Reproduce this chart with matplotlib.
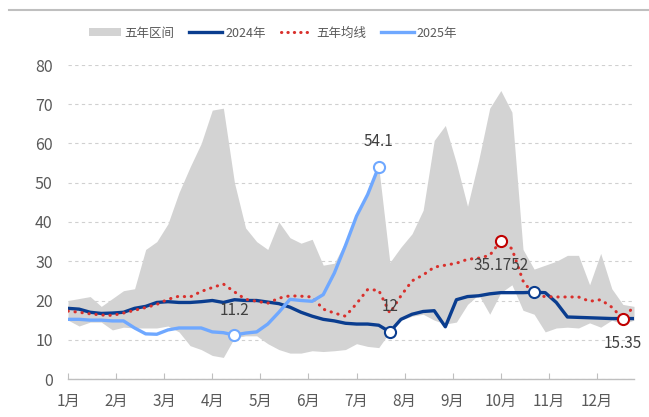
import matplotlib
matplotlib.use("Agg")
import matplotlib.pyplot as plt
from matplotlib.lines import Line2D
from matplotlib.patches import Patch
import numpy as np

plt.rcParams['font.family'] = ['Noto Sans CJK SC', 'DejaVu Sans']

months = ["1月", "2月", "3月", "4月", "5月", "6月", "7月", "8月", "9月", "10月", "11月", "12月"]

range_high = [20, 20.5, 21, 18.5, 20.5, 22.5, 23, 33, 35, 39.5, 47.5, 54, 60, 68.5, 69, 50,
              38.5, 35, 33, 40, 36, 34.6, 35.6, 29, 29.5, 35, 42, 48, 54, 29.7,
              33.6, 37, 43, 60.8, 64.6, 55, 44, 55.7, 69, 73.5, 68, 33, 28, 29,
              30, 31.5, 31.5, 24, 32, 23, 19, 18.5]
range_low = [15, 13.5, 14.5, 14.5, 12.5, 13.2, 13, 13, 13, 13.5, 12, 8.5, 7.5, 6, 5.5, 10.5,
             11, 11, 9, 7.5, 6.6, 6.6, 7.2, 7, 7.2, 7.5, 9, 8.3, 8, 12,
             15, 16, 16.5, 15, 14, 14.5, 19, 21.5, 16.5, 22, 24, 17.5, 16.5, 12,
             13, 13.2, 13, 14.3, 13.2, 15, 14, 15]
y2024 = [18, 17.8, 17, 16.7, 16.8, 17, 18, 18.5, 19.5, 19.7, 19.5, 19.5, 19.7, 20, 19.5, 20.2,
         20, 20, 19.6, 19.2, 18.3, 17, 16, 15.2, 14.8, 14.2, 14, 14, 13.7, 12,
         15.2, 16.5, 17.2, 17.4, 13.3, 20.2, 21, 21.2, 21.7, 22, 22, 22, 22.1, 22,
         19.5, 15.8, 15.7, 15.6, 15.5, 15.4, 15.4, 15.4]
avg5 = [17.3, 17, 16.6, 16.3, 16.2, 16.8, 17.5, 18.2, 19, 20.3, 21.1, 20.9, 22.3, 23.3, 24.2, 22.2,
        20.3, 19.8, 19.3, 20.6, 21.2, 21.1, 20.9, 17.8, 16.8, 16, 19.2, 22.8, 22.6, 16.8,
        21.2, 25, 26.5, 28.5, 29, 29.5, 30.5, 30.8, 31.5, 35.17522, 33.2, 25, 21.3, 21,
        20.9, 20.9, 20.9, 19.8, 20.2, 18.3, 15.35, 18.5]
y2025 = [15.2, 15.2, 15, 15, 14.8, 14.8, 13, 11.5, 11.4, 12.5, 13, 13, 13, 12, 11.8, 11.2,
         11.7, 12, 14, 17, 20.3, 20, 19.8, 21.5, 27, 34, 41.5, 47, 54.1]

x_all = np.arange(len(y2024))
x25 = np.arange(len(y2025))

c_band = "#d3d3d3"
c24 = "#0a3d8f"
c25 = "#6fa8ff"
cavg = "#d9302c"

fig = plt.figure(figsize=(6.49, 4.17), dpi=100)
ax = fig.add_axes([68/649, 38/417, 566/649, 314/417])

ax.fill_between(x_all, range_low, range_high, color=c_band, lw=0, zorder=1)
ax.plot(x_all, y2024, color=c24, lw=2.4, zorder=3, solid_capstyle='round')
ax.plot(x_all, avg5, color=cavg, lw=2.2, ls=(0, (0.1, 2.2)), dash_capstyle='round', zorder=3)
ax.plot(x25, y2025, color=c25, lw=2.4, zorder=4, solid_capstyle='round')

def mark(i, arr, col, label, below=False):
    ax.plot([i], [arr[i]], marker='o', ms=8, mfc='white', mec=col, mew=1.5, zorder=5)
    if label is not None:
        ax.annotate(label, (i, arr[i]), xytext=(0, -18 if below else 18), textcoords='offset points',
                    ha='center', va='center', fontsize=11, color='#404040', zorder=6)

i25max = int(np.argmax(y2025)); i25min = int(np.argmin(y2025))
mark(i25max, y2025, c25, f"{y2025[i25max]:g}")
mark(i25min, y2025, c25, f"{y2025[i25min]:g}")
i24min = int(np.argmin(y2024)); i24max = int(np.argmax(y2024))
mark(i24min, y2024, c24, f"{y2024[i24min]:g}")
mark(i24max, y2024, c24, None)
iavmax = int(np.argmax(avg5)); iavmin = int(np.argmin(avg5))
mark(iavmax, avg5, "#c00000", f"{avg5[iavmax]:g}", below=True)
mark(iavmin, avg5, "#c00000", f"{avg5[iavmin]:g}", below=True)

ax.set_xlim(0, 51)
ax.set_ylim(0, 80)
ax.set_yticks(np.arange(0, 81, 10))
ax.set_xticks([m * 52 / 12 for m in range(12)])
ax.set_xticklabels(months)
ax.grid(axis='y', color='#d0d0d0', ls=(0, (3, 3)), lw=0.8)
ax.set_axisbelow(True)
for s in ['left', 'right', 'top']:
    ax.spines[s].set_visible(False)
ax.spines['bottom'].set_color('#bfbfbf')
ax.spines['bottom'].set_linewidth(1.0)
ax.tick_params(axis='y', length=0, pad=11, labelsize=11.5, labelcolor='#595959')
ax.tick_params(axis='x', direction='in', length=4, color='#bfbfbf', pad=10, labelsize=11, labelcolor='#595959')

handles = [Patch(facecolor=c_band, edgecolor='none'),
           Line2D([], [], color=c24, lw=2.4),
           Line2D([], [], color=cavg, lw=2.2, ls=(0, (0.1, 2.0)), dash_capstyle='round'),
           Line2D([], [], color=c25, lw=2.4)]
labels = ["五年区间", "2024年", "五年均线", "2025年"]
fig.legend(handles, labels, loc='center', bbox_to_anchor=(273/649, 1 - 33/417), ncol=4, frameon=False,
           fontsize=9, handlelength=2.6, handleheight=0.6, handletextpad=0.25, columnspacing=1.2,
           labelcolor='#595959')

fig.add_artist(Line2D([9/649, 1.0], [1 - 10/417, 1 - 10/417], color='#bfbfbf', lw=1.5))

fig.savefig("out.png", dpi=100)
